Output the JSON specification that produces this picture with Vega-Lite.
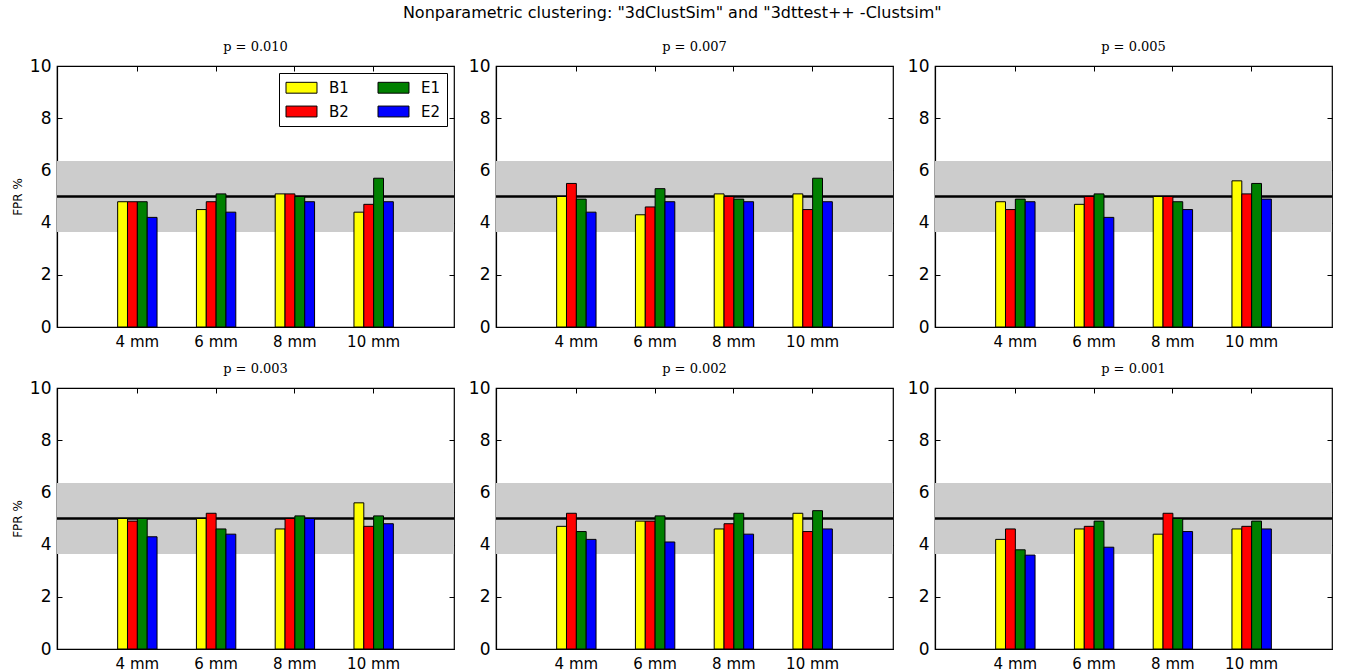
{
  "$schema": "https://vega.github.io/schema/vega-lite/v6.json",
  "background": "white",
  "padding": {"left": 10, "top": 5, "right": 5, "bottom": 5},
  "title": {"text": "Nonparametric clustering: \"3dClustSim\" and \"3dttest++ -Clustsim\"", "font": "DejaVu Sans", "fontSize": 16, "fontWeight": "normal", "color": "black", "anchor": "middle", "offset": 19},
  "datasets": {
    "band": [{"lo": 3.64, "hi": 6.36, "nominal": 5}],
    "fpr": [
      {"p":"0.010","size":"4 mm","group":"B1","fpr":4.8},{"p":"0.010","size":"4 mm","group":"B2","fpr":4.8},{"p":"0.010","size":"4 mm","group":"E1","fpr":4.8},{"p":"0.010","size":"4 mm","group":"E2","fpr":4.2},
      {"p":"0.010","size":"6 mm","group":"B1","fpr":4.5},{"p":"0.010","size":"6 mm","group":"B2","fpr":4.8},{"p":"0.010","size":"6 mm","group":"E1","fpr":5.1},{"p":"0.010","size":"6 mm","group":"E2","fpr":4.4},
      {"p":"0.010","size":"8 mm","group":"B1","fpr":5.1},{"p":"0.010","size":"8 mm","group":"B2","fpr":5.1},{"p":"0.010","size":"8 mm","group":"E1","fpr":5.0},{"p":"0.010","size":"8 mm","group":"E2","fpr":4.8},
      {"p":"0.010","size":"10 mm","group":"B1","fpr":4.4},{"p":"0.010","size":"10 mm","group":"B2","fpr":4.7},{"p":"0.010","size":"10 mm","group":"E1","fpr":5.7},{"p":"0.010","size":"10 mm","group":"E2","fpr":4.8},

      {"p":"0.007","size":"4 mm","group":"B1","fpr":5.0},{"p":"0.007","size":"4 mm","group":"B2","fpr":5.5},{"p":"0.007","size":"4 mm","group":"E1","fpr":4.9},{"p":"0.007","size":"4 mm","group":"E2","fpr":4.4},
      {"p":"0.007","size":"6 mm","group":"B1","fpr":4.3},{"p":"0.007","size":"6 mm","group":"B2","fpr":4.6},{"p":"0.007","size":"6 mm","group":"E1","fpr":5.3},{"p":"0.007","size":"6 mm","group":"E2","fpr":4.8},
      {"p":"0.007","size":"8 mm","group":"B1","fpr":5.1},{"p":"0.007","size":"8 mm","group":"B2","fpr":5.0},{"p":"0.007","size":"8 mm","group":"E1","fpr":4.9},{"p":"0.007","size":"8 mm","group":"E2","fpr":4.8},
      {"p":"0.007","size":"10 mm","group":"B1","fpr":5.1},{"p":"0.007","size":"10 mm","group":"B2","fpr":4.5},{"p":"0.007","size":"10 mm","group":"E1","fpr":5.7},{"p":"0.007","size":"10 mm","group":"E2","fpr":4.8},

      {"p":"0.005","size":"4 mm","group":"B1","fpr":4.8},{"p":"0.005","size":"4 mm","group":"B2","fpr":4.5},{"p":"0.005","size":"4 mm","group":"E1","fpr":4.9},{"p":"0.005","size":"4 mm","group":"E2","fpr":4.8},
      {"p":"0.005","size":"6 mm","group":"B1","fpr":4.7},{"p":"0.005","size":"6 mm","group":"B2","fpr":5.0},{"p":"0.005","size":"6 mm","group":"E1","fpr":5.1},{"p":"0.005","size":"6 mm","group":"E2","fpr":4.2},
      {"p":"0.005","size":"8 mm","group":"B1","fpr":5.0},{"p":"0.005","size":"8 mm","group":"B2","fpr":5.0},{"p":"0.005","size":"8 mm","group":"E1","fpr":4.8},{"p":"0.005","size":"8 mm","group":"E2","fpr":4.5},
      {"p":"0.005","size":"10 mm","group":"B1","fpr":5.6},{"p":"0.005","size":"10 mm","group":"B2","fpr":5.1},{"p":"0.005","size":"10 mm","group":"E1","fpr":5.5},{"p":"0.005","size":"10 mm","group":"E2","fpr":4.9},

      {"p":"0.003","size":"4 mm","group":"B1","fpr":5.0},{"p":"0.003","size":"4 mm","group":"B2","fpr":4.9},{"p":"0.003","size":"4 mm","group":"E1","fpr":5.0},{"p":"0.003","size":"4 mm","group":"E2","fpr":4.3},
      {"p":"0.003","size":"6 mm","group":"B1","fpr":5.0},{"p":"0.003","size":"6 mm","group":"B2","fpr":5.2},{"p":"0.003","size":"6 mm","group":"E1","fpr":4.6},{"p":"0.003","size":"6 mm","group":"E2","fpr":4.4},
      {"p":"0.003","size":"8 mm","group":"B1","fpr":4.6},{"p":"0.003","size":"8 mm","group":"B2","fpr":5.0},{"p":"0.003","size":"8 mm","group":"E1","fpr":5.1},{"p":"0.003","size":"8 mm","group":"E2","fpr":5.0},
      {"p":"0.003","size":"10 mm","group":"B1","fpr":5.6},{"p":"0.003","size":"10 mm","group":"B2","fpr":4.7},{"p":"0.003","size":"10 mm","group":"E1","fpr":5.1},{"p":"0.003","size":"10 mm","group":"E2","fpr":4.8},

      {"p":"0.002","size":"4 mm","group":"B1","fpr":4.7},{"p":"0.002","size":"4 mm","group":"B2","fpr":5.2},{"p":"0.002","size":"4 mm","group":"E1","fpr":4.5},{"p":"0.002","size":"4 mm","group":"E2","fpr":4.2},
      {"p":"0.002","size":"6 mm","group":"B1","fpr":4.9},{"p":"0.002","size":"6 mm","group":"B2","fpr":4.9},{"p":"0.002","size":"6 mm","group":"E1","fpr":5.1},{"p":"0.002","size":"6 mm","group":"E2","fpr":4.1},
      {"p":"0.002","size":"8 mm","group":"B1","fpr":4.6},{"p":"0.002","size":"8 mm","group":"B2","fpr":4.8},{"p":"0.002","size":"8 mm","group":"E1","fpr":5.2},{"p":"0.002","size":"8 mm","group":"E2","fpr":4.4},
      {"p":"0.002","size":"10 mm","group":"B1","fpr":5.2},{"p":"0.002","size":"10 mm","group":"B2","fpr":4.5},{"p":"0.002","size":"10 mm","group":"E1","fpr":5.3},{"p":"0.002","size":"10 mm","group":"E2","fpr":4.6},

      {"p":"0.001","size":"4 mm","group":"B1","fpr":4.2},{"p":"0.001","size":"4 mm","group":"B2","fpr":4.6},{"p":"0.001","size":"4 mm","group":"E1","fpr":3.8},{"p":"0.001","size":"4 mm","group":"E2","fpr":3.6},
      {"p":"0.001","size":"6 mm","group":"B1","fpr":4.6},{"p":"0.001","size":"6 mm","group":"B2","fpr":4.7},{"p":"0.001","size":"6 mm","group":"E1","fpr":4.9},{"p":"0.001","size":"6 mm","group":"E2","fpr":3.9},
      {"p":"0.001","size":"8 mm","group":"B1","fpr":4.4},{"p":"0.001","size":"8 mm","group":"B2","fpr":5.2},{"p":"0.001","size":"8 mm","group":"E1","fpr":5.0},{"p":"0.001","size":"8 mm","group":"E2","fpr":4.5},
      {"p":"0.001","size":"10 mm","group":"B1","fpr":4.6},{"p":"0.001","size":"10 mm","group":"B2","fpr":4.7},{"p":"0.001","size":"10 mm","group":"E1","fpr":4.9},{"p":"0.001","size":"10 mm","group":"E2","fpr":4.6}
    ]
  },
  "columns": 3,
  "bounds": "flush",
  "spacing": {"row": 61, "column": 42},
  "resolve": {"scale": {"color": "independent"}, "legend": {"color": "independent"}},
  "concat": [
    {
      "width": 397, "height": 261,
      "title": {"text": "p = 0.010"},
      "resolve": {"axis": {"x": "independent", "y": "independent"}},
      "layer": [
        {"data": {"name": "band"}, "mark": {"type": "rect", "color": "#cccccc"}, "encoding": {"y": {"field": "lo", "type": "quantitative", "scale": {"domain": [0, 10], "nice": false}, "axis": {"orient": "right", "labels": false, "title": null, "domain": false}}, "y2": {"field": "hi"}}},
        {"data": {"name": "band"}, "mark": {"type": "rule", "color": "black", "strokeWidth": 2.5}, "encoding": {"y": {"field": "nominal", "type": "quantitative", "axis": null}}},
        {"data": {"name": "fpr"}, "transform": [{"filter": "datum.p == '0.010'"}],
         "mark": {"type": "bar", "opacity": 0},
         "encoding": {"x": {"field": "size", "type": "nominal", "sort": ["4 mm", "6 mm", "8 mm", "10 mm"], "axis": {"orient": "top", "labels": false, "title": null, "domain": false}}}},
        {"data": {"name": "fpr"}, "transform": [{"filter": "datum.p == '0.010'"}],
         "mark": {"type": "bar", "stroke": "black", "strokeWidth": 1},
         "encoding": {
           "x": {"field": "size", "type": "nominal", "sort": ["4 mm", "6 mm", "8 mm", "10 mm"], "scale": {"paddingInner": 0.5, "paddingOuter": 0.77}, "axis": {"title": null}},
           "xOffset": {"field": "group", "type": "nominal", "sort": ["B1", "B2", "E1", "E2"], "scale": {"paddingInner": 0, "paddingOuter": 0}},
           "y": {"field": "fpr", "type": "quantitative", "scale": {"domain": [0, 10], "nice": false}, "axis": {"title": "FPR %"}},
           "color": {"field": "group", "type": "nominal", "scale": {"domain": ["B1", "B2", "E1", "E2"], "range": ["#ffff00", "#ff0000", "#008000", "#0000ff"]},
             "legend": {"orient": "top-right", "offset": 7, "columns": 2, "title": null, "strokeColor": "black", "padding": 6, "fillColor": "white", "symbolType": "M-2,-0.7L2,-0.7L2,0.7L-2,0.7Z", "symbolSize": 240, "symbolOffset": 8, "symbolStrokeColor": "black", "symbolStrokeWidth": 1, "symbolOpacity": 1, "labelFontSize": 15, "labelFont": "DejaVu Sans", "labelColor": "black", "columnPadding": 27, "rowPadding": 7, "labelOffset": 19}}
         }}
      ]
    },
    {
      "width": 397, "height": 261,
      "title": {"text": "p = 0.007"},
      "resolve": {"axis": {"x": "independent", "y": "independent"}},
      "layer": [
        {"data": {"name": "band"}, "mark": {"type": "rect", "color": "#cccccc"}, "encoding": {"y": {"field": "lo", "type": "quantitative", "scale": {"domain": [0, 10], "nice": false}, "axis": {"orient": "right", "labels": false, "title": null, "domain": false}}, "y2": {"field": "hi"}}},
        {"data": {"name": "band"}, "mark": {"type": "rule", "color": "black", "strokeWidth": 2.5}, "encoding": {"y": {"field": "nominal", "type": "quantitative", "axis": null}}},
        {"data": {"name": "fpr"}, "transform": [{"filter": "datum.p == '0.007'"}],
         "mark": {"type": "bar", "opacity": 0},
         "encoding": {"x": {"field": "size", "type": "nominal", "sort": ["4 mm", "6 mm", "8 mm", "10 mm"], "axis": {"orient": "top", "labels": false, "title": null, "domain": false}}}},
        {"data": {"name": "fpr"}, "transform": [{"filter": "datum.p == '0.007'"}],
         "mark": {"type": "bar", "stroke": "black", "strokeWidth": 1},
         "encoding": {
           "x": {"field": "size", "type": "nominal", "sort": ["4 mm", "6 mm", "8 mm", "10 mm"], "scale": {"paddingInner": 0.5, "paddingOuter": 0.77}, "axis": {"title": null}},
           "xOffset": {"field": "group", "type": "nominal", "sort": ["B1", "B2", "E1", "E2"], "scale": {"paddingInner": 0, "paddingOuter": 0}},
           "y": {"field": "fpr", "type": "quantitative", "scale": {"domain": [0, 10], "nice": false}, "axis": {"title": null}},
           "color": {"field": "group", "type": "nominal", "scale": {"domain": ["B1", "B2", "E1", "E2"], "range": ["#ffff00", "#ff0000", "#008000", "#0000ff"]}, "legend": null}
         }}
      ]
    },
    {
      "width": 397, "height": 261,
      "title": {"text": "p = 0.005"},
      "resolve": {"axis": {"x": "independent", "y": "independent"}},
      "layer": [
        {"data": {"name": "band"}, "mark": {"type": "rect", "color": "#cccccc"}, "encoding": {"y": {"field": "lo", "type": "quantitative", "scale": {"domain": [0, 10], "nice": false}, "axis": {"orient": "right", "labels": false, "title": null, "domain": false}}, "y2": {"field": "hi"}}},
        {"data": {"name": "band"}, "mark": {"type": "rule", "color": "black", "strokeWidth": 2.5}, "encoding": {"y": {"field": "nominal", "type": "quantitative", "axis": null}}},
        {"data": {"name": "fpr"}, "transform": [{"filter": "datum.p == '0.005'"}],
         "mark": {"type": "bar", "opacity": 0},
         "encoding": {"x": {"field": "size", "type": "nominal", "sort": ["4 mm", "6 mm", "8 mm", "10 mm"], "axis": {"orient": "top", "labels": false, "title": null, "domain": false}}}},
        {"data": {"name": "fpr"}, "transform": [{"filter": "datum.p == '0.005'"}],
         "mark": {"type": "bar", "stroke": "black", "strokeWidth": 1},
         "encoding": {
           "x": {"field": "size", "type": "nominal", "sort": ["4 mm", "6 mm", "8 mm", "10 mm"], "scale": {"paddingInner": 0.5, "paddingOuter": 0.77}, "axis": {"title": null}},
           "xOffset": {"field": "group", "type": "nominal", "sort": ["B1", "B2", "E1", "E2"], "scale": {"paddingInner": 0, "paddingOuter": 0}},
           "y": {"field": "fpr", "type": "quantitative", "scale": {"domain": [0, 10], "nice": false}, "axis": {"title": null}},
           "color": {"field": "group", "type": "nominal", "scale": {"domain": ["B1", "B2", "E1", "E2"], "range": ["#ffff00", "#ff0000", "#008000", "#0000ff"]}, "legend": null}
         }}
      ]
    },
    {
      "width": 397, "height": 261,
      "title": {"text": "p = 0.003"},
      "resolve": {"axis": {"x": "independent", "y": "independent"}},
      "layer": [
        {"data": {"name": "band"}, "mark": {"type": "rect", "color": "#cccccc"}, "encoding": {"y": {"field": "lo", "type": "quantitative", "scale": {"domain": [0, 10], "nice": false}, "axis": {"orient": "right", "labels": false, "title": null, "domain": false}}, "y2": {"field": "hi"}}},
        {"data": {"name": "band"}, "mark": {"type": "rule", "color": "black", "strokeWidth": 2.5}, "encoding": {"y": {"field": "nominal", "type": "quantitative", "axis": null}}},
        {"data": {"name": "fpr"}, "transform": [{"filter": "datum.p == '0.003'"}],
         "mark": {"type": "bar", "opacity": 0},
         "encoding": {"x": {"field": "size", "type": "nominal", "sort": ["4 mm", "6 mm", "8 mm", "10 mm"], "axis": {"orient": "top", "labels": false, "title": null, "domain": false}}}},
        {"data": {"name": "fpr"}, "transform": [{"filter": "datum.p == '0.003'"}],
         "mark": {"type": "bar", "stroke": "black", "strokeWidth": 1},
         "encoding": {
           "x": {"field": "size", "type": "nominal", "sort": ["4 mm", "6 mm", "8 mm", "10 mm"], "scale": {"paddingInner": 0.5, "paddingOuter": 0.77}, "axis": {"title": null}},
           "xOffset": {"field": "group", "type": "nominal", "sort": ["B1", "B2", "E1", "E2"], "scale": {"paddingInner": 0, "paddingOuter": 0}},
           "y": {"field": "fpr", "type": "quantitative", "scale": {"domain": [0, 10], "nice": false}, "axis": {"title": "FPR %"}},
           "color": {"field": "group", "type": "nominal", "scale": {"domain": ["B1", "B2", "E1", "E2"], "range": ["#ffff00", "#ff0000", "#008000", "#0000ff"]}, "legend": null}
         }}
      ]
    },
    {
      "width": 397, "height": 261,
      "title": {"text": "p = 0.002"},
      "resolve": {"axis": {"x": "independent", "y": "independent"}},
      "layer": [
        {"data": {"name": "band"}, "mark": {"type": "rect", "color": "#cccccc"}, "encoding": {"y": {"field": "lo", "type": "quantitative", "scale": {"domain": [0, 10], "nice": false}, "axis": {"orient": "right", "labels": false, "title": null, "domain": false}}, "y2": {"field": "hi"}}},
        {"data": {"name": "band"}, "mark": {"type": "rule", "color": "black", "strokeWidth": 2.5}, "encoding": {"y": {"field": "nominal", "type": "quantitative", "axis": null}}},
        {"data": {"name": "fpr"}, "transform": [{"filter": "datum.p == '0.002'"}],
         "mark": {"type": "bar", "opacity": 0},
         "encoding": {"x": {"field": "size", "type": "nominal", "sort": ["4 mm", "6 mm", "8 mm", "10 mm"], "axis": {"orient": "top", "labels": false, "title": null, "domain": false}}}},
        {"data": {"name": "fpr"}, "transform": [{"filter": "datum.p == '0.002'"}],
         "mark": {"type": "bar", "stroke": "black", "strokeWidth": 1},
         "encoding": {
           "x": {"field": "size", "type": "nominal", "sort": ["4 mm", "6 mm", "8 mm", "10 mm"], "scale": {"paddingInner": 0.5, "paddingOuter": 0.77}, "axis": {"title": null}},
           "xOffset": {"field": "group", "type": "nominal", "sort": ["B1", "B2", "E1", "E2"], "scale": {"paddingInner": 0, "paddingOuter": 0}},
           "y": {"field": "fpr", "type": "quantitative", "scale": {"domain": [0, 10], "nice": false}, "axis": {"title": null}},
           "color": {"field": "group", "type": "nominal", "scale": {"domain": ["B1", "B2", "E1", "E2"], "range": ["#ffff00", "#ff0000", "#008000", "#0000ff"]}, "legend": null}
         }}
      ]
    },
    {
      "width": 397, "height": 261,
      "title": {"text": "p = 0.001"},
      "resolve": {"axis": {"x": "independent", "y": "independent"}},
      "layer": [
        {"data": {"name": "band"}, "mark": {"type": "rect", "color": "#cccccc"}, "encoding": {"y": {"field": "lo", "type": "quantitative", "scale": {"domain": [0, 10], "nice": false}, "axis": {"orient": "right", "labels": false, "title": null, "domain": false}}, "y2": {"field": "hi"}}},
        {"data": {"name": "band"}, "mark": {"type": "rule", "color": "black", "strokeWidth": 2.5}, "encoding": {"y": {"field": "nominal", "type": "quantitative", "axis": null}}},
        {"data": {"name": "fpr"}, "transform": [{"filter": "datum.p == '0.001'"}],
         "mark": {"type": "bar", "opacity": 0},
         "encoding": {"x": {"field": "size", "type": "nominal", "sort": ["4 mm", "6 mm", "8 mm", "10 mm"], "axis": {"orient": "top", "labels": false, "title": null, "domain": false}}}},
        {"data": {"name": "fpr"}, "transform": [{"filter": "datum.p == '0.001'"}],
         "mark": {"type": "bar", "stroke": "black", "strokeWidth": 1},
         "encoding": {
           "x": {"field": "size", "type": "nominal", "sort": ["4 mm", "6 mm", "8 mm", "10 mm"], "scale": {"paddingInner": 0.5, "paddingOuter": 0.77}, "axis": {"title": null}},
           "xOffset": {"field": "group", "type": "nominal", "sort": ["B1", "B2", "E1", "E2"], "scale": {"paddingInner": 0, "paddingOuter": 0}},
           "y": {"field": "fpr", "type": "quantitative", "scale": {"domain": [0, 10], "nice": false}, "axis": {"title": null}},
           "color": {"field": "group", "type": "nominal", "scale": {"domain": ["B1", "B2", "E1", "E2"], "range": ["#ffff00", "#ff0000", "#008000", "#0000ff"]}, "legend": null}
         }}
      ]
    }
  ],
  "config": {
    "view": {"stroke": "black", "strokeWidth": 1.2, "fill": "white"},
    "title": {"font": "DejaVu Serif", "fontSize": 13, "fontWeight": "normal", "color": "black", "fontStyle": "normal", "offset": 3},
    "axis": {"domainColor": "black", "domainWidth": 1.2, "tickColor": "black", "labelColor": "black", "titleColor": "black", "labelFont": "DejaVu Sans", "titleFont": "DejaVu Sans", "titleFontWeight": "normal", "grid": false},
    "axisX": {"labelFontSize": 15, "labelAngle": 0, "tickSize": -5, "labelPadding": 12, "domain": true},
    "axisY": {"labelFontSize": 17, "values": [0, 2, 4, 6, 8, 10], "tickSize": -5, "labelPadding": 11, "titleFontSize": 12, "titlePadding": 5}
  }
}
